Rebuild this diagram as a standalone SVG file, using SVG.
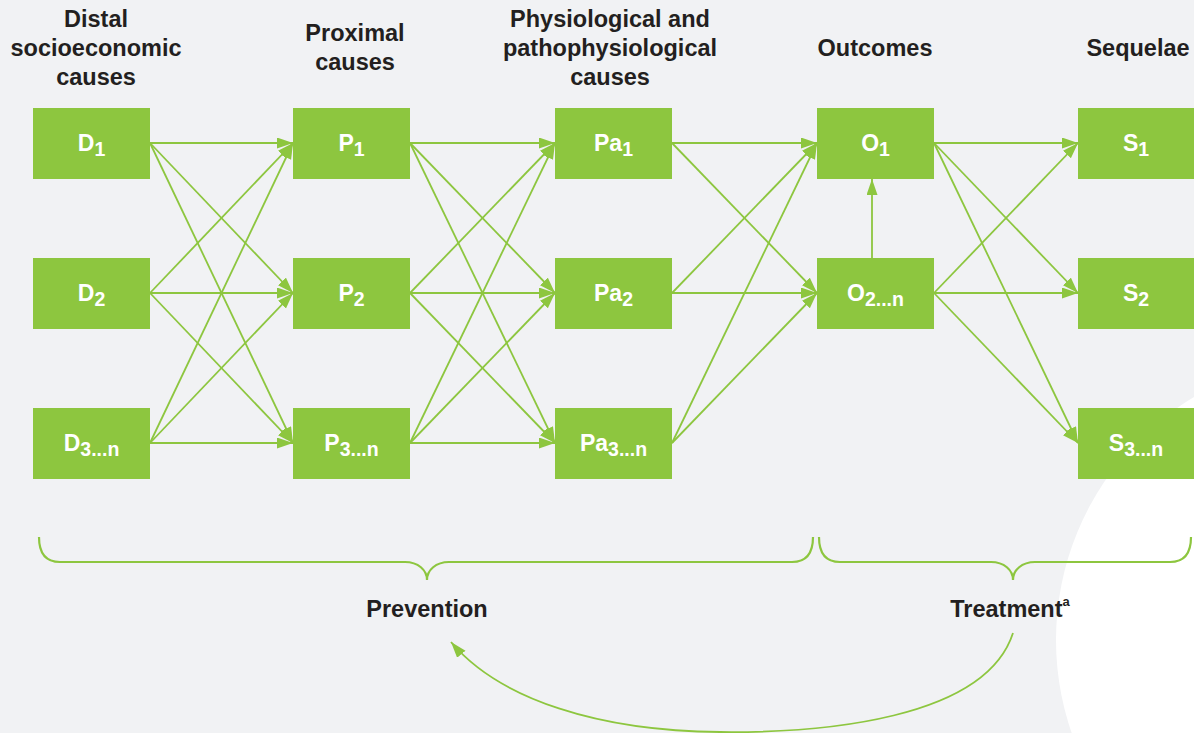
<svg xmlns="http://www.w3.org/2000/svg" width="1194" height="733" viewBox="0 0 1194 733">
<style>
.bg{fill:#f1f2f4}
.box{fill:#8dc63f}
.bt{font-family:"Liberation Sans",Arial,sans-serif;font-weight:bold;font-size:23px;fill:#ffffff;text-anchor:middle}
.sub{font-size:19.5px}
.hd{font-family:"Liberation Sans",Arial,sans-serif;font-weight:bold;font-size:23.5px;fill:#231f20;text-anchor:middle}
.edge{stroke:#8dc63f;stroke-width:1.8;fill:none;marker-end:url(#ah)}
.brace{stroke:#8dc63f;stroke-width:2.2;fill:none}
</style>
<defs>
<marker id="ah" markerUnits="userSpaceOnUse" markerWidth="18" markerHeight="12" refX="16" refY="5.5" orient="auto">
<path d="M0,0 L16,5.5 L0,11 z" fill="#8dc63f"/>
</marker>
</defs>
<rect class="bg" x="0" y="0" width="1194" height="733"/>
<circle cx="1339" cy="640" r="283" fill="#ffffff"/>

<g id="connectors">
<!-- D to P -->
<line class="edge" x1="150" y1="143" x2="293" y2="143"/>
<line class="edge" x1="150" y1="143" x2="293" y2="293"/>
<line class="edge" x1="150" y1="143" x2="293" y2="443"/>
<line class="edge" x1="150" y1="293" x2="293" y2="143"/>
<line class="edge" x1="150" y1="293" x2="293" y2="293"/>
<line class="edge" x1="150" y1="293" x2="293" y2="443"/>
<line class="edge" x1="150" y1="443" x2="293" y2="143"/>
<line class="edge" x1="150" y1="443" x2="293" y2="293"/>
<line class="edge" x1="150" y1="443" x2="293" y2="443"/>
<!-- P to Pa -->
<line class="edge" x1="410" y1="143" x2="555" y2="143"/>
<line class="edge" x1="410" y1="143" x2="555" y2="293"/>
<line class="edge" x1="410" y1="143" x2="555" y2="443"/>
<line class="edge" x1="410" y1="293" x2="555" y2="143"/>
<line class="edge" x1="410" y1="293" x2="555" y2="293"/>
<line class="edge" x1="410" y1="293" x2="555" y2="443"/>
<line class="edge" x1="410" y1="443" x2="555" y2="143"/>
<line class="edge" x1="410" y1="443" x2="555" y2="293"/>
<line class="edge" x1="410" y1="443" x2="555" y2="443"/>
<!-- Pa to O -->
<line class="edge" x1="672" y1="143" x2="817" y2="143"/>
<line class="edge" x1="672" y1="143" x2="817" y2="293"/>
<line class="edge" x1="672" y1="293" x2="817" y2="143"/>
<line class="edge" x1="672" y1="293" x2="817" y2="293"/>
<line class="edge" x1="672" y1="443" x2="817" y2="143"/>
<line class="edge" x1="672" y1="443" x2="817" y2="293"/>
<!-- O2 to O1 -->
<line class="edge" x1="872" y1="258" x2="872" y2="179"/>
<!-- O to S -->
<line class="edge" x1="934" y1="143" x2="1078" y2="143"/>
<line class="edge" x1="934" y1="143" x2="1078" y2="293"/>
<line class="edge" x1="934" y1="143" x2="1078" y2="443"/>
<line class="edge" x1="934" y1="293" x2="1078" y2="143"/>
<line class="edge" x1="934" y1="293" x2="1078" y2="293"/>
<line class="edge" x1="934" y1="293" x2="1078" y2="443"/>
<!-- Treatment back to Prevention -->
<path class="edge" d="M1013,633 C985,720 820,733 720,732 C600,731 500,700 451,642"/>
</g>

<g id="D1"><rect class="box" x="33" y="108" width="117" height="71"/><text class="bt" x="91.5" y="151">D<tspan class="sub" dy="5">1</tspan></text></g>
<g id="D2"><rect class="box" x="33" y="258" width="117" height="71"/><text class="bt" x="91.5" y="301">D<tspan class="sub" dy="5">2</tspan></text></g>
<g id="D3"><rect class="box" x="33" y="408" width="117" height="71"/><text class="bt" x="91.5" y="451">D<tspan class="sub" dy="5">3...n</tspan></text></g>

<g id="P1"><rect class="box" x="293" y="108" width="117" height="71"/><text class="bt" x="351.5" y="151">P<tspan class="sub" dy="5">1</tspan></text></g>
<g id="P2"><rect class="box" x="293" y="258" width="117" height="71"/><text class="bt" x="351.5" y="301">P<tspan class="sub" dy="5">2</tspan></text></g>
<g id="P3"><rect class="box" x="293" y="408" width="117" height="71"/><text class="bt" x="351.5" y="451">P<tspan class="sub" dy="5">3...n</tspan></text></g>

<g id="Pa1"><rect class="box" x="555" y="108" width="117" height="71"/><text class="bt" x="613.5" y="151">Pa<tspan class="sub" dy="5">1</tspan></text></g>
<g id="Pa2"><rect class="box" x="555" y="258" width="117" height="71"/><text class="bt" x="613.5" y="301">Pa<tspan class="sub" dy="5">2</tspan></text></g>
<g id="Pa3"><rect class="box" x="555" y="408" width="117" height="71"/><text class="bt" x="613.5" y="451">Pa<tspan class="sub" dy="5">3...n</tspan></text></g>

<g id="O1"><rect class="box" x="817" y="108" width="117" height="71"/><text class="bt" x="875.5" y="151">O<tspan class="sub" dy="5">1</tspan></text></g>
<g id="O2"><rect class="box" x="817" y="258" width="117" height="71"/><text class="bt" x="875.5" y="301">O<tspan class="sub" dy="5">2...n</tspan></text></g>

<g id="S1"><rect class="box" x="1078" y="108" width="117" height="71"/><text class="bt" x="1136" y="151">S<tspan class="sub" dy="5">1</tspan></text></g>
<g id="S2"><rect class="box" x="1078" y="258" width="117" height="71"/><text class="bt" x="1136" y="301">S<tspan class="sub" dy="5">2</tspan></text></g>
<g id="S3"><rect class="box" x="1078" y="408" width="117" height="71"/><text class="bt" x="1136" y="451">S<tspan class="sub" dy="5">3...n</tspan></text></g>

<g id="headings">
<text class="hd" x="96" y="27">Distal</text>
<text class="hd" x="96" y="56">socioeconomic</text>
<text class="hd" x="96" y="85">causes</text>
<text class="hd" x="355" y="41">Proximal</text>
<text class="hd" x="355" y="70">causes</text>
<text class="hd" x="610" y="27">Physiological and</text>
<text class="hd" x="610" y="56">pathophysiological</text>
<text class="hd" x="610" y="85">causes</text>
<text class="hd" x="875" y="56">Outcomes</text>
<text class="hd" x="1138" y="56">Sequelae</text>
</g>

<g id="braces">
<path class="brace" d="M39,537 C39,553 46,562 60,562 L405,562 C418,562 427,570 427,580 C427,570 436,562 449,562 L792,562 C806,562 813,553 813,537"/>
<path class="brace" d="M819,537 C819,553 826,562 840,562 L991,562 C1004,562 1013,570 1013,580 C1013,570 1022,562 1035,562 L1170,562 C1184,562 1191,553 1191,537"/>
</g>

<g id="labels">
<text class="hd" x="427" y="617">Prevention</text>
<text class="hd" x="1010" y="617">Treatment<tspan font-size="13" dy="-11">a</tspan></text>
</g>
</svg>
